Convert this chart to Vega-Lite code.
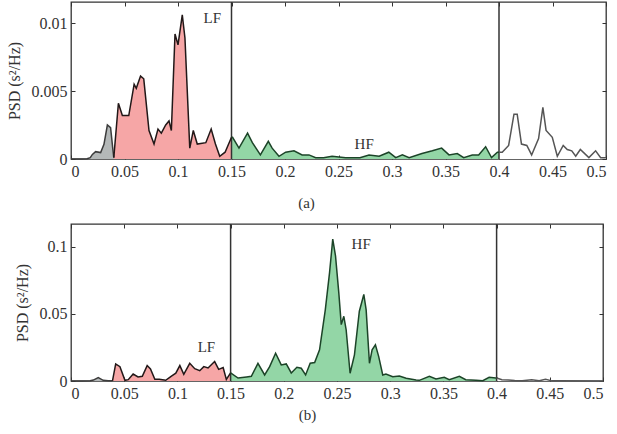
{
  "$schema": "https://vega.github.io/schema/vega-lite/v6.json",
  "background": "white",
  "padding": {"left": 5, "top": 0, "right": 6, "bottom": 4},
  "bounds": "flush",
  "spacing": 65,
  "config": {
    "font": "Liberation Serif",
    "view": {"stroke": "#333333", "strokeWidth": 1.3},
    "axis": {
      "domain": false,
      "grid": false,
      "labelFont": "Liberation Serif",
      "labelFontSize": 16,
      "labelColor": "#333333",
      "tickColor": "#333333",
      "tickSize": -4,
      "labelPadding": 8,
      "titleFont": "Liberation Serif",
      "titleFontSize": 15,
      "titleFontWeight": "normal",
      "titleColor": "#333333"
    }
  },
  "datasets": {
    "a": [
      {"f": 0, "p": 0, "band": "VLF"},
      {"f": 0.005, "p": 0, "band": "VLF"},
      {"f": 0.01, "p": 0, "band": "VLF"},
      {"f": 0.015, "p": 0.00002, "band": "VLF"},
      {"f": 0.018, "p": 0.0001, "band": "VLF"},
      {"f": 0.02, "p": 0.00034, "band": "VLF"},
      {"f": 0.023, "p": 0.00054, "band": "VLF"},
      {"f": 0.0277, "p": 0.00047, "band": "VLF"},
      {"f": 0.0308, "p": 0.00108, "band": "VLF"},
      {"f": 0.034, "p": 0.0025, "band": "VLF"},
      {"f": 0.037, "p": 0.0023, "band": "VLF"},
      {"f": 0.039, "p": 0.0008, "band": "VLF"},
      {"f": 0.04, "p": 0.0001, "band": "VLF"},
      {"f": 0.04, "p": 0.0001, "band": "LF"},
      {"f": 0.0443, "p": 0.0041, "band": "LF"},
      {"f": 0.048, "p": 0.0032, "band": "LF"},
      {"f": 0.054, "p": 0.0032, "band": "LF"},
      {"f": 0.059, "p": 0.0055, "band": "LF"},
      {"f": 0.061, "p": 0.0052, "band": "LF"},
      {"f": 0.065, "p": 0.0061, "band": "LF"},
      {"f": 0.068, "p": 0.0059, "band": "LF"},
      {"f": 0.0729, "p": 0.0021, "band": "LF"},
      {"f": 0.0776, "p": 0.0011, "band": "LF"},
      {"f": 0.0813, "p": 0.0022, "band": "LF"},
      {"f": 0.0844, "p": 0.0019, "band": "LF"},
      {"f": 0.0885, "p": 0.0025, "band": "LF"},
      {"f": 0.0916, "p": 0.0028, "band": "LF"},
      {"f": 0.0938, "p": 0.0021, "band": "LF"},
      {"f": 0.0972, "p": 0.0092, "band": "LF"},
      {"f": 0.1, "p": 0.0084, "band": "LF"},
      {"f": 0.104, "p": 0.0106, "band": "LF"},
      {"f": 0.1065, "p": 0.0089, "band": "LF"},
      {"f": 0.111, "p": 0.0008, "band": "LF"},
      {"f": 0.1143, "p": 0.0021, "band": "LF"},
      {"f": 0.118, "p": 0.0011, "band": "LF"},
      {"f": 0.126, "p": 0.0012, "band": "LF"},
      {"f": 0.131, "p": 0.0022, "band": "LF"},
      {"f": 0.135, "p": 0.0011, "band": "LF"},
      {"f": 0.139, "p": 0.0002, "band": "LF"},
      {"f": 0.144, "p": 0.0005, "band": "LF"},
      {"f": 0.15, "p": 0.0016, "band": "LF"},
      {"f": 0.15, "p": 0.0016, "band": "HF"},
      {"f": 0.151, "p": 0.0016, "band": "HF"},
      {"f": 0.157, "p": 0.0008, "band": "HF"},
      {"f": 0.165, "p": 0.0019, "band": "HF"},
      {"f": 0.1695, "p": 0.0012, "band": "HF"},
      {"f": 0.177, "p": 0.0003, "band": "HF"},
      {"f": 0.1844, "p": 0.0013, "band": "HF"},
      {"f": 0.188, "p": 0.0008, "band": "HF"},
      {"f": 0.1944, "p": 0.0002, "band": "HF"},
      {"f": 0.2006, "p": 0.0005, "band": "HF"},
      {"f": 0.2084, "p": 0.0006, "band": "HF"},
      {"f": 0.216, "p": 0.0003, "band": "HF"},
      {"f": 0.2224, "p": 0.0003, "band": "HF"},
      {"f": 0.2287, "p": 0.0001, "band": "HF"},
      {"f": 0.236, "p": 0.0001, "band": "HF"},
      {"f": 0.244, "p": 0.0002, "band": "HF"},
      {"f": 0.2567, "p": 0.0001, "band": "HF"},
      {"f": 0.27, "p": 0.0001, "band": "HF"},
      {"f": 0.2785, "p": 0.0003, "band": "HF"},
      {"f": 0.288, "p": 0.0002, "band": "HF"},
      {"f": 0.297, "p": 0.0005, "band": "HF"},
      {"f": 0.3035, "p": 0.0001, "band": "HF"},
      {"f": 0.3097, "p": 0.0003, "band": "HF"},
      {"f": 0.316, "p": 0.0001, "band": "HF"},
      {"f": 0.328, "p": 0.0004, "band": "HF"},
      {"f": 0.3377, "p": 0.0006, "band": "HF"},
      {"f": 0.3464, "p": 0.0008, "band": "HF"},
      {"f": 0.3533, "p": 0.0003, "band": "HF"},
      {"f": 0.361, "p": 0.0004, "band": "HF"},
      {"f": 0.367, "p": 0.0001, "band": "HF"},
      {"f": 0.375, "p": 0.0003, "band": "HF"},
      {"f": 0.381, "p": 0.0003, "band": "HF"},
      {"f": 0.3875, "p": 0.0009, "band": "HF"},
      {"f": 0.393, "p": 0.0001, "band": "HF"},
      {"f": 0.3985, "p": 0.0005, "band": "HF"},
      {"f": 0.4, "p": 0.0005, "band": "HF"},
      {"f": 0.4, "p": 0.0005, "band": "none"},
      {"f": 0.403, "p": 0.0005, "band": "none"},
      {"f": 0.409, "p": 0.001, "band": "none"},
      {"f": 0.414, "p": 0.0033, "band": "none"},
      {"f": 0.417, "p": 0.0033, "band": "none"},
      {"f": 0.421, "p": 0.0011, "band": "none"},
      {"f": 0.426, "p": 0.001, "band": "none"},
      {"f": 0.4305, "p": 0.0003, "band": "none"},
      {"f": 0.437, "p": 0.0015, "band": "none"},
      {"f": 0.441, "p": 0.0038, "band": "none"},
      {"f": 0.444, "p": 0.0021, "band": "none"},
      {"f": 0.4498, "p": 0.0016, "band": "none"},
      {"f": 0.4545, "p": 0.0002, "band": "none"},
      {"f": 0.46, "p": 0.001, "band": "none"},
      {"f": 0.4638, "p": 0.0007, "band": "none"},
      {"f": 0.468, "p": 0.0006, "band": "none"},
      {"f": 0.4717, "p": 0.0002, "band": "none"},
      {"f": 0.476, "p": 0.0007, "band": "none"},
      {"f": 0.484, "p": 0.0001, "band": "none"},
      {"f": 0.4903, "p": 0.0006, "band": "none"},
      {"f": 0.495, "p": 0.0001, "band": "none"},
      {"f": 0.5, "p": 0.0001, "band": "none"}
    ],
    "b": [
      {"f": 0, "p": 0, "band": "VLF"},
      {"f": 0.01, "p": 0, "band": "VLF"},
      {"f": 0.018, "p": 0.0002, "band": "VLF"},
      {"f": 0.021, "p": 0.0007, "band": "VLF"},
      {"f": 0.0256, "p": 0.0025, "band": "VLF"},
      {"f": 0.0303, "p": 0.0005, "band": "VLF"},
      {"f": 0.035, "p": 0.0002, "band": "VLF"},
      {"f": 0.039, "p": 0.0001, "band": "VLF"},
      {"f": 0.039, "p": 0.0001, "band": "LF"},
      {"f": 0.042, "p": 0.0127, "band": "LF"},
      {"f": 0.046, "p": 0.0107, "band": "LF"},
      {"f": 0.0507, "p": 0.0005, "band": "LF"},
      {"f": 0.0538, "p": 0.001, "band": "LF"},
      {"f": 0.0584, "p": 0.0052, "band": "LF"},
      {"f": 0.063, "p": 0.003, "band": "LF"},
      {"f": 0.067, "p": 0.0035, "band": "LF"},
      {"f": 0.0716, "p": 0.0115, "band": "LF"},
      {"f": 0.0747, "p": 0.009, "band": "LF"},
      {"f": 0.0788, "p": 0.0013, "band": "LF"},
      {"f": 0.083, "p": 0.0013, "band": "LF"},
      {"f": 0.089, "p": 0.0005, "band": "LF"},
      {"f": 0.0944, "p": 0.0037, "band": "LF"},
      {"f": 0.0985, "p": 0.0058, "band": "LF"},
      {"f": 0.1023, "p": 0.0115, "band": "LF"},
      {"f": 0.106, "p": 0.005, "band": "LF"},
      {"f": 0.1116, "p": 0.0132, "band": "LF"},
      {"f": 0.1163, "p": 0.0092, "band": "LF"},
      {"f": 0.121, "p": 0.0077, "band": "LF"},
      {"f": 0.1248, "p": 0.0107, "band": "LF"},
      {"f": 0.1288, "p": 0.0097, "band": "LF"},
      {"f": 0.135, "p": 0.0145, "band": "LF"},
      {"f": 0.1388, "p": 0.0087, "band": "LF"},
      {"f": 0.143, "p": 0.01, "band": "LF"},
      {"f": 0.146, "p": 0.0012, "band": "LF"},
      {"f": 0.15, "p": 0.006, "band": "LF"},
      {"f": 0.15, "p": 0.006, "band": "HF"},
      {"f": 0.157, "p": 0.0022, "band": "HF"},
      {"f": 0.165, "p": 0.003, "band": "HF"},
      {"f": 0.1695, "p": 0.0035, "band": "HF"},
      {"f": 0.1757, "p": 0.0132, "band": "HF"},
      {"f": 0.182, "p": 0.0045, "band": "HF"},
      {"f": 0.1867, "p": 0.0107, "band": "HF"},
      {"f": 0.1923, "p": 0.0207, "band": "HF"},
      {"f": 0.1976, "p": 0.012, "band": "HF"},
      {"f": 0.2023, "p": 0.0127, "band": "HF"},
      {"f": 0.207, "p": 0.006, "band": "HF"},
      {"f": 0.2123, "p": 0.0102, "band": "HF"},
      {"f": 0.2164, "p": 0.0095, "band": "HF"},
      {"f": 0.2205, "p": 0.0045, "band": "HF"},
      {"f": 0.2248, "p": 0.0132, "band": "HF"},
      {"f": 0.229, "p": 0.0137, "band": "HF"},
      {"f": 0.2336, "p": 0.0232, "band": "HF"},
      {"f": 0.239, "p": 0.053, "band": "HF"},
      {"f": 0.243, "p": 0.0807, "band": "HF"},
      {"f": 0.246, "p": 0.1057, "band": "HF"},
      {"f": 0.2486, "p": 0.0932, "band": "HF"},
      {"f": 0.2517, "p": 0.0657, "band": "HF"},
      {"f": 0.254, "p": 0.042, "band": "HF"},
      {"f": 0.2564, "p": 0.0482, "band": "HF"},
      {"f": 0.2586, "p": 0.0382, "band": "HF"},
      {"f": 0.2623, "p": 0.0058, "band": "HF"},
      {"f": 0.2664, "p": 0.0195, "band": "HF"},
      {"f": 0.271, "p": 0.052, "band": "HF"},
      {"f": 0.2752, "p": 0.0645, "band": "HF"},
      {"f": 0.2774, "p": 0.053, "band": "HF"},
      {"f": 0.2805, "p": 0.0132, "band": "HF"},
      {"f": 0.283, "p": 0.0232, "band": "HF"},
      {"f": 0.2861, "p": 0.027, "band": "HF"},
      {"f": 0.2892, "p": 0.0182, "band": "HF"},
      {"f": 0.293, "p": 0.0045, "band": "HF"},
      {"f": 0.296, "p": 0.0052, "band": "HF"},
      {"f": 0.3024, "p": 0.0032, "band": "HF"},
      {"f": 0.3086, "p": 0.0037, "band": "HF"},
      {"f": 0.315, "p": 0.002, "band": "HF"},
      {"f": 0.3243, "p": 0.0007, "band": "HF"},
      {"f": 0.3274, "p": 0.0005, "band": "HF"},
      {"f": 0.3368, "p": 0.0035, "band": "HF"},
      {"f": 0.343, "p": 0.0015, "band": "HF"},
      {"f": 0.3508, "p": 0.0027, "band": "HF"},
      {"f": 0.3555, "p": 0.001, "band": "HF"},
      {"f": 0.365, "p": 0.0035, "band": "HF"},
      {"f": 0.371, "p": 0.001, "band": "HF"},
      {"f": 0.3806, "p": 0.0005, "band": "HF"},
      {"f": 0.387, "p": 0.0002, "band": "HF"},
      {"f": 0.393, "p": 0.0027, "band": "HF"},
      {"f": 0.3993, "p": 0.0022, "band": "HF"},
      {"f": 0.4, "p": 0.0022, "band": "HF"},
      {"f": 0.4, "p": 0.0022, "band": "none"},
      {"f": 0.405, "p": 0.001, "band": "none"},
      {"f": 0.411, "p": 0.0007, "band": "none"},
      {"f": 0.417, "p": 0.0004, "band": "none"},
      {"f": 0.424, "p": 0.0002, "band": "none"},
      {"f": 0.433, "p": 0.001, "band": "none"},
      {"f": 0.44, "p": 0.0002, "band": "none"},
      {"f": 0.446, "p": 0.0012, "band": "none"},
      {"f": 0.452, "p": 0.0001, "band": "none"},
      {"f": 0.46, "p": 0.0001, "band": "none"},
      {"f": 0.5, "p": 0, "band": "none"}
    ]
  },
  "vconcat": [
    {
      "width": 535,
      "height": 157,
      "resolve": {"axis": {"x": "independent", "y": "independent"}},
      "layer": [
        {
          "data": {"name": "a"},
          "mark": {"type": "area", "interpolate": "linear"},
          "encoding": {
            "x": {"field": "f", "type": "quantitative", "scale": {"domain": [0, 0.5], "nice": false},
              "axis": {"orient": "bottom", "values": [0, 0.05, 0.1, 0.15, 0.2, 0.25, 0.3, 0.35, 0.4, 0.45, 0.5], "labelExpr": "datum.value + ''", "title": "(a)", "titlePadding": 16, "titleX": 235}},
            "y": {"field": "p", "type": "quantitative", "stack": null, "scale": {"domain": [0, 0.01155], "nice": false},
              "axis": {"orient": "left", "values": [0, 0.005, 0.01], "labelExpr": "datum.value + ''", "title": "PSD (s²/Hz)", "titleFontSize": 16, "titlePadding": 9}},
            "fill": {"field": "band", "type": "nominal", "scale": {"domain": ["VLF", "LF", "HF", "none"], "range": ["#b4b8b8", "#f6a6a6", "#93d6a6", "#ffffff"]}, "legend": null}
          }
        },
        {
          "data": {"values": [{}]},
          "mark": {"type": "rule", "color": "#333333", "strokeWidth": 1.5},
          "encoding": {"x": {"datum": 0.15, "type": "quantitative", "axis": null}}
        },
        {
          "data": {"values": [{}]},
          "mark": {"type": "rule", "color": "#333333", "strokeWidth": 1.5},
          "encoding": {"x": {"datum": 0.4, "type": "quantitative", "axis": null}}
        },
        {
          "data": {"name": "a"},
          "mark": {"type": "line", "strokeWidth": 1.5},
          "encoding": {
            "x": {"field": "f", "type": "quantitative",
              "axis": {"orient": "top", "values": [0, 0.05, 0.1, 0.15, 0.2, 0.25, 0.3, 0.35, 0.4, 0.45, 0.5], "labels": false, "title": null}},
            "y": {"field": "p", "type": "quantitative", "stack": null,
              "axis": {"orient": "right", "values": [0, 0.005, 0.01], "labels": false, "title": null}},
            "stroke": {"field": "band", "type": "nominal", "scale": {"domain": ["VLF", "LF", "HF", "none"], "range": ["#3c3c3c", "#221818", "#1c4428", "#555555"]}, "legend": null},
            "order": {"field": "f", "type": "quantitative"}
          }
        },
        {
          "data": {"values": [{}]},
          "mark": {"type": "text", "font": "Liberation Serif", "fontSize": 15, "color": "#333333"},
          "encoding": {"x": {"datum": 0.132, "type": "quantitative", "axis": null}, "y": {"datum": 0.0104, "type": "quantitative", "axis": null}, "text": {"value": "LF"}}
        },
        {
          "data": {"values": [{}]},
          "mark": {"type": "text", "font": "Liberation Serif", "fontSize": 15, "color": "#333333"},
          "encoding": {"x": {"datum": 0.274, "type": "quantitative", "axis": null}, "y": {"datum": 0.00112, "type": "quantitative", "axis": null}, "text": {"value": "HF"}}
        }
      ]
    },
    {
      "width": 532,
      "height": 157,
      "resolve": {"axis": {"x": "independent", "y": "independent"}},
      "layer": [
        {
          "data": {"name": "b"},
          "mark": {"type": "area", "interpolate": "linear"},
          "encoding": {
            "x": {"field": "f", "type": "quantitative", "scale": {"domain": [0, 0.5], "nice": false},
              "axis": {"orient": "bottom", "values": [0, 0.05, 0.1, 0.15, 0.2, 0.25, 0.3, 0.35, 0.4, 0.45, 0.5], "labelExpr": "datum.value + ''", "title": "(b)", "titlePadding": 6, "titleX": 236}},
            "y": {"field": "p", "type": "quantitative", "stack": null, "scale": {"domain": [0, 0.117], "nice": false},
              "axis": {"orient": "left", "values": [0, 0.05, 0.1], "labelExpr": "datum.value + ''", "title": "PSD (s²/Hz)", "titleFontSize": 16, "titlePadding": 9}},
            "fill": {"field": "band", "type": "nominal", "scale": {"domain": ["VLF", "LF", "HF", "none"], "range": ["#b4b8b8", "#f6a6a6", "#93d6a6", "#ffffff"]}, "legend": null}
          }
        },
        {
          "data": {"values": [{}]},
          "mark": {"type": "rule", "color": "#333333", "strokeWidth": 1.5},
          "encoding": {"x": {"datum": 0.15, "type": "quantitative", "axis": null}}
        },
        {
          "data": {"values": [{}]},
          "mark": {"type": "rule", "color": "#333333", "strokeWidth": 1.5},
          "encoding": {"x": {"datum": 0.4, "type": "quantitative", "axis": null}}
        },
        {
          "data": {"name": "b"},
          "mark": {"type": "line", "strokeWidth": 1.5},
          "encoding": {
            "x": {"field": "f", "type": "quantitative",
              "axis": {"orient": "top", "values": [0, 0.05, 0.1, 0.15, 0.2, 0.25, 0.3, 0.35, 0.4, 0.45, 0.5], "labels": false, "title": null}},
            "y": {"field": "p", "type": "quantitative", "stack": null,
              "axis": {"orient": "right", "values": [0, 0.05, 0.1], "labels": false, "title": null}},
            "stroke": {"field": "band", "type": "nominal", "scale": {"domain": ["VLF", "LF", "HF", "none"], "range": ["#3c3c3c", "#221818", "#1c4428", "#555555"]}, "legend": null},
            "order": {"field": "f", "type": "quantitative"}
          }
        },
        {
          "data": {"values": [{}]},
          "mark": {"type": "text", "font": "Liberation Serif", "fontSize": 15, "color": "#333333"},
          "encoding": {"x": {"datum": 0.2727, "type": "quantitative", "axis": null}, "y": {"datum": 0.102, "type": "quantitative", "axis": null}, "text": {"value": "HF"}}
        },
        {
          "data": {"values": [{}]},
          "mark": {"type": "text", "font": "Liberation Serif", "fontSize": 15, "color": "#333333"},
          "encoding": {"x": {"datum": 0.1273, "type": "quantitative", "axis": null}, "y": {"datum": 0.0257, "type": "quantitative", "axis": null}, "text": {"value": "LF"}}
        }
      ]
    }
  ]
}
